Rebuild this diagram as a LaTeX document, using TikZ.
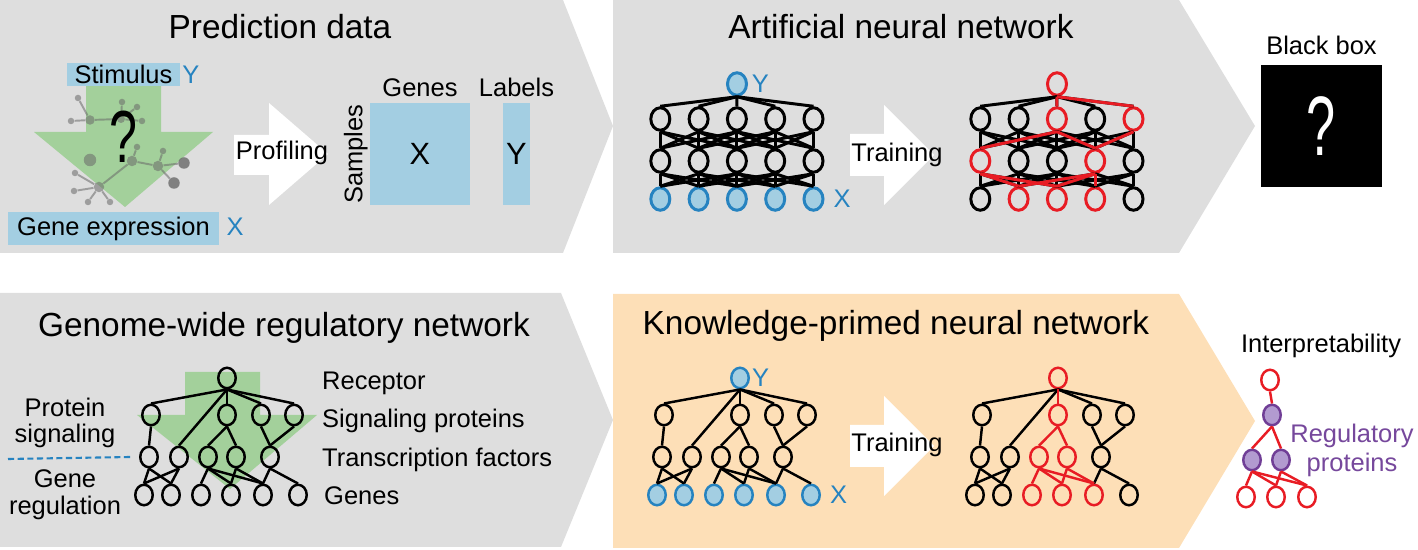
\documentclass[tikz,border=0pt]{standalone}
\usepackage{fontspec}
\setmainfont{Liberation Sans}
\usetikzlibrary{shapes.geometric,positioning}
\definecolor{panelgray}{RGB}{222,222,222}
\definecolor{peach}{RGB}{253,223,183}
\definecolor{arrowgreen}{RGB}{163,208,155}
\definecolor{lblue}{RGB}{163,206,226}
\definecolor{nblue}{RGB}{38,131,192}
\definecolor{nred}{RGB}{232,28,36}
\definecolor{ptext}{RGB}{118,72,156}
\definecolor{pfill}{RGB}{178,155,208}
\definecolor{pdraw}{RGB}{112,62,150}
\definecolor{netgray}{RGB}{105,105,105}

\begin{document}
\begin{tikzpicture}[x=0.02cm,y=-0.02cm,
title/.style={font=\fontsize{19}{22}\selectfont,anchor=base},
lbl/.style={font=\fontsize{14.5}{16}\selectfont,anchor=base},
bluelbl/.style={lbl,text=nblue},
neuron/.style={draw,ellipse,line width=1.7pt,minimum width=0.38cm,minimum height=0.45cm,inner sep=0pt},
inneuron/.style={neuron,draw=nblue,fill=lblue},
rneuron/.style={neuron,draw=nred},
gnode/.style={draw,ellipse,line width=1.4pt,minimum width=0.35cm,minimum height=0.41cm,inner sep=0pt},
ingnode/.style={gnode,draw=nblue,fill=lblue},
rgnode/.style={gnode,draw=nred},
pgnode/.style={gnode,draw=pdraw,fill=pfill},
link/.style={line width=1.7pt},
tlink/.style={line width=1.4pt},
netdot/.style={circle,fill=netgray,fill opacity=.55,inner sep=0pt,minimum size=#1},
netlink/.style={draw=netgray,draw opacity=.55,line width=1.1pt}]

\useasboundingbox (0,0) rectangle (1418,550);

\fill[panelgray] (0,0) -- (563,0) -- (613,126) -- (563,253) -- (0,253) -- cycle;
\fill[panelgray] (613,0) -- (1179,0) -- (1255,126) -- (1179,253) -- (613,253) -- cycle;
\fill[panelgray] (0,293) -- (561,293) -- (613,420) -- (561,547) -- (0,547) -- cycle;
\fill[peach] (613,294) -- (1179,294) -- (1255,421) -- (1179,548) -- (613,548) -- cycle;

\node[title] (pdata) at (280,39) {Prediction data};
\node[title] (ann) at (901,39) {Artificial neural network};
\node[title] (grn) at (284,337) {Genome-wide regulatory network};
\node[title] (kpnn) at (896,335) {Knowledge-primed neural network};

\fill[arrowgreen] (86,86) -- (161,86) -- (161,132) -- (213,132) -- (125,207) -- (34,132) -- (86,132) -- cycle;
\fill[arrowgreen] (185,372) -- (260,372) -- (260,415) -- (317,415) -- (230,489) -- (137,415) -- (185,415) -- cycle;

\node[netdot=1.9mm] (na) at (90,120) {};
\node[netdot=1.3mm] (la1) at (78,98) {};
\node[netdot=1.3mm] (la2) at (71,121) {};
\node[netdot=1.6mm] (nb) at (121,119) {};
\node[netdot=1.3mm] (lb1) at (122,102) {};
\node[netdot=1.3mm] (lb2) at (137,107) {};
\node[netdot=1.3mm] (lb3) at (142,121) {};
\node[netdot=2.5mm] (nc) at (90,160) {};
\node[netdot=2.1mm] (nd) at (132,161) {};
\node[netdot=1.3mm] (ld1) at (137,147) {};
\node[netdot=2.1mm] (ne) at (158,166) {};
\node[netdot=1.3mm] (le1) at (163,151) {};
\node[netdot=2.3mm,fill opacity=.8] (le2) at (184,163) {};
\node[netdot=2.3mm,fill opacity=.8] (le3) at (174,183) {};
\node[netdot=2.1mm] (nf) at (99,187) {};
\node[netdot=1.3mm] (lf1) at (75,173) {};
\node[netdot=1.3mm] (lf2) at (74,191) {};
\node[netdot=1.3mm] (lf3) at (88,202) {};
\node[netdot=1.3mm] (lf4) at (110,202) {};
\foreach \a/\b in {na/la1,na/la2,na/nb,nb/lb1,nb/lb2,nb/lb3,nd/ld1,nd/ne,nd/nf,ne/le1,ne/le2,ne/le3,nf/lf1,nf/lf2,nf/lf3,nf/lf4}
  \draw[netlink] (\a) -- (\b);

\node[lbl,anchor=center,fill=lblue,minimum width=2.26cm,minimum height=0.46cm,inner sep=0pt] (stim) at (123.5,74.5) {Stimulus};
\node[bluelbl,anchor=base west,inner sep=0pt] (stimy) at ([xshift=1pt]stim.base east) {Y};
\node[lbl,anchor=center,fill=lblue,minimum width=4.22cm,minimum height=0.66cm,inner sep=0pt] (gexp) at (113.5,228.5) {Gene expression};
\node[bluelbl,anchor=base west,inner sep=0pt] (gexpx) at ([xshift=4pt]gexp.base east) {X};
\node[font=\fontsize{42}{46}\selectfont] (qmark) at (123,137) {\scalebox{0.68}[1]{?}};

\fill[white] (234,135) -- (269,135) -- (269,103) -- (328,154) -- (269,205) -- (269,175) -- (234,175) -- cycle;
\node[lbl] (prof) at (282,160) {Profiling};

\node[fill=lblue,minimum width=2cm,minimum height=2.04cm,inner sep=0pt,font=\fontsize{17.5}{20}\selectfont] (xmat) at (420,154) {X};
\node[fill=lblue,minimum width=0.54cm,minimum height=2.04cm,inner sep=0pt,font=\fontsize{17.5}{20}\selectfont] (ymat) at (516.5,154) {Y};
\node[lbl,rotate=90,anchor=south,inner sep=1pt] (samples) at (xmat.west) {Samples};
\node[lbl] (genes) at (420,97) {Genes};
\node[lbl] (labels) at (516.5,97) {Labels};

\foreach \i in {1,...,5} {
  \node[neuron] (a1\i) at (622+38.3*\i,119) {};
  \node[neuron] (a2\i) at (622+38.3*\i,161) {};
  \node[inneuron] (a3\i) at (622+38.3*\i,199) {};
}
\node[inneuron] (ay) at (737,84) {};
\node[bluelbl,anchor=west,inner sep=0pt] (ayl) at ([xshift=2pt]ay.east) {Y};
\node[bluelbl,anchor=west,inner sep=0pt] (axl) at ([xshift=5pt]a35.east) {X};
\foreach \i in {1,...,5} {
  \draw[link] (ay.south) -- (a1\i.north);
  \foreach \j in {1,...,5} {
    \pgfmathtruncatemacro\ldist{abs(\i-\j)}
    \ifnum\ldist<3
      \draw[link] (a1\i.south) -- (a2\j.north);
      \draw[link] (a2\i.south) -- (a3\j.north);
    \fi
  }
}

\fill[white] (850,134) -- (884,134) -- (884,105) -- (934,155) -- (884,205) -- (884,176) -- (850,176) -- cycle;
\node[lbl] (train1) at (897,162) {Training};

\foreach \i/\sa/\sb/\sc in {1/neuron/rneuron/neuron,2/neuron/neuron/rneuron,3/rneuron/neuron/rneuron,4/neuron/rneuron/rneuron,5/rneuron/neuron/neuron} {
  \node[\sa] (b1\i) at (942+38.3*\i,119) {};
  \node[\sb] (b2\i) at (942+38.3*\i,161) {};
  \node[\sc] (b3\i) at (942+38.3*\i,199) {};
}
\node[rneuron] (by) at (1057,84) {};
\foreach \i in {1,...,5} {
  \draw[link] (by.south) -- (b1\i.north);
  \foreach \j in {1,...,5} {
    \pgfmathtruncatemacro\ldist{abs(\i-\j)}
    \ifnum\ldist<3
      \draw[link] (b1\i.south) -- (b2\j.north);
      \draw[link] (b2\i.south) -- (b3\j.north);
    \fi
  }
}
\foreach \a/\b in {by/b13,by/b15,b13/b21,b13/b24,b15/b24,b21/b32,b21/b33,b24/b32,b24/b33,b24/b34}
  \draw[link,nred] (\a.south) -- (\b.north);

\node[lbl] (bbt) at (1321.5,55) {Black box};
\node[fill=black,minimum width=2.42cm,minimum height=2.44cm,inner sep=0pt,text=white,font=\fontsize{48}{52}\selectfont] (bbox) at (1321.5,126) {\scalebox{0.62}[1]{?}};

\foreach \nm/\dx/\dy in {r/0/0,s1/-76/37,s2/0/37,s3/34/37,s4/67/37,t1/-78/79,t2/-48/79,t3/-19/79,t4/9/79,t5/43/79,g1/-83/117,g2/-56/117,g3/-26/117,g4/4/117,g5/36/117,g6/71/117}
  \node[gnode] (g\nm) at (227+\dx,378+\dy) {};
\foreach \a/\b in {r/s1,r/s2,r/s3,r/s4,r/t2,s1/t1,s2/t3,s2/t4,s3/t5,s4/t5,t1/g1,t1/g2,t2/g1,t2/g2,t3/g3,t3/g4,t3/g5,t4/g4,t4/g5,t5/g5,t5/g6}
  \draw[tlink] (g\a.south) -- (g\b.north);

\node[lbl,anchor=base west] (rec) at (316,390) {Receptor};
\node[lbl,anchor=base west] (sigp) at (316,428) {Signaling proteins};
\node[lbl,anchor=base west] (tfac) at (316,467) {Transcription factors};
\node[lbl,anchor=base west] (genesl) at (318,505) {Genes};
\node[lbl] (protl) at (65,417) {Protein};
\node[lbl] (sigl) at (65,443) {signaling};
\node[lbl] (genel) at (65,488) {Gene};
\node[lbl] (regl) at (65,515) {regulation};
\coordinate (dashl) at (8,459);
\draw[nblue,line width=1.2pt,dash pattern=on 3.5pt off 2pt] (dashl) -- ([xshift=-5pt]gt1.west);

\foreach \nm/\dx/\dy/\s in {r/0/0/ingnode,s1/-76/37/gnode,s2/0/37/gnode,s3/34/37/gnode,s4/67/37/gnode,t1/-78/79/gnode,t2/-48/79/gnode,t3/-19/79/gnode,t4/9/79/gnode,t5/43/79/gnode,g1/-83/117/ingnode,g2/-56/117/ingnode,g3/-26/117/ingnode,g4/4/117/ingnode,g5/36/117/ingnode,g6/71/117/ingnode}
  \node[\s] (k\nm) at (740+\dx,378+\dy) {};
\foreach \a/\b in {r/s1,r/s2,r/s3,r/s4,r/t2,s1/t1,s2/t3,s2/t4,s3/t5,s4/t5,t1/g1,t1/g2,t2/g1,t2/g2,t3/g3,t3/g4,t3/g5,t4/g4,t4/g5,t5/g5,t5/g6}
  \draw[tlink] (k\a.south) -- (k\b.north);
\node[bluelbl,anchor=west,inner sep=0pt] (kyl) at ([xshift=1pt]kr.east) {Y};
\node[bluelbl,anchor=west,inner sep=0pt] (kxl) at ([xshift=5pt]kg6.east) {X};

\fill[white] (850,425) -- (884,425) -- (884,396) -- (934,446) -- (884,496) -- (884,467) -- (850,467) -- cycle;
\node[lbl] (train2) at (897,452) {Training};

\foreach \nm/\dx/\dy/\s in {r/0/0/rgnode,s1/-76/37/gnode,s2/0/37/rgnode,s3/34/37/gnode,s4/67/37/gnode,t1/-78/79/gnode,t2/-48/79/gnode,t3/-19/79/rgnode,t4/9/79/rgnode,t5/43/79/gnode,g1/-83/117/gnode,g2/-56/117/gnode,g3/-26/117/rgnode,g4/4/117/rgnode,g5/36/117/rgnode,g6/71/117/gnode}
  \node[\s] (m\nm) at (1058+\dx,378+\dy) {};
\foreach \a/\b in {r/s1,r/s3,r/s4,r/t2,s1/t1,s3/t5,s4/t5,t1/g1,t1/g2,t2/g1,t2/g2,t5/g5,t5/g6}
  \draw[tlink] (m\a.south) -- (m\b.north);
\foreach \a/\b in {r/s2,s2/t3,s2/t4,t3/g3,t3/g4,t3/g5,t4/g4,t4/g5}
  \draw[tlink,nred] (m\a.south) -- (m\b.north);

\node[lbl] (interp) at (1321,353) {Interpretability};
\node[rgnode] (ir) at (1270,380) {};
\node[pgnode] (ip1) at (1272,415) {};
\node[pgnode] (ip2) at (1252,460) {};
\node[pgnode] (ip3) at (1281,460) {};
\node[rgnode] (il1) at (1246,497) {};
\node[rgnode] (il2) at (1276,497) {};
\node[rgnode] (il3) at (1307,497) {};
\foreach \a/\b in {ir/ip1,ip1/ip2,ip1/ip3,ip2/il1,ip2/il2,ip2/il3,ip3/il2,ip3/il3}
  \draw[tlink,nred] (\a.south) -- (\b.north);
\node[lbl,text=ptext] (regul) at (1352,443) {Regulatory};
\node[lbl,text=ptext] (protn) at (1352,472) {proteins};

\end{tikzpicture}
\end{document}
